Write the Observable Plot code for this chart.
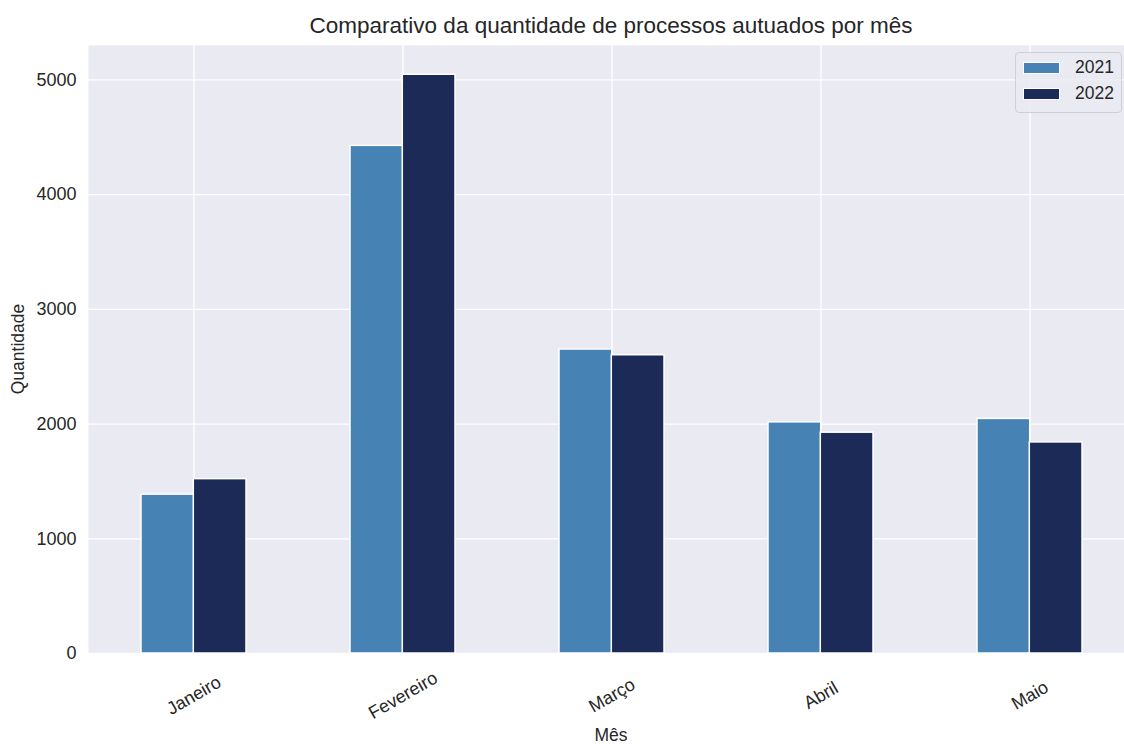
<!DOCTYPE html>
<html>
<head>
<meta charset="utf-8">
<script src="https://cdn.jsdelivr.net/npm/d3@7"></script>
<script src="https://cdn.jsdelivr.net/npm/@observablehq/plot@0.6"></script>
<style>
  html, body { margin: 0; padding: 0; background: #ffffff; overflow: hidden; }
  body { font-family: "Liberation Sans", Arial, sans-serif; color: #262626; }
  #wrap { position: relative; width: 1124px; height: 744px; overflow: hidden; }
  #title { position: absolute; left: 88px; width: 1046px; top: 13px; text-align: center; font-size: 22.5px; }
  #chart { position: absolute; left: 0; top: 43px; width: 1134px; }
  #chart svg { max-width: none !important; }
  #chart svg text { font-size: 18px !important; }
  .ylab { position: absolute; left: 18px; top: 349px; transform: translate(-50%, -50%) rotate(-90deg); font-size: 17.5px; white-space: nowrap; }
  .xlab { position: absolute; left: 611px; top: 735px; transform: translate(-50%, -50%); font-size: 17.5px; }
  #legend { position: absolute; left: 1015px; top: 52px; width: 107px; height: 61px; box-sizing: border-box;
            background: rgba(234,234,242,0.85); border: 1px solid #cfcfd8; border-radius: 4px; }
  .item { position: absolute; left: 7px; display: flex; align-items: center; font-size: 17.5px; }
  .sw { width: 37px; height: 12px; box-sizing: border-box; border: 1px solid #fff; margin-right: 15px; }
</style>
</head>
<body>
<div id="wrap">
  <div id="title">Comparativo da quantidade de processos autuados por mês</div>
  <div id="chart"></div>
  <div class="ylab">Quantidade</div>
  <div class="xlab">Mês</div>
  <div id="legend"></div>
</div>
<script>
const months = ["Janeiro", "Fevereiro", "Março", "Abril", "Maio"];
const years = ["2021", "2022"];
const values2021 = [1385, 4425, 2650, 2015, 2045];
const values2022 = [1520, 5045, 2600, 1925, 1840];
const yTicks = [0, 1000, 2000, 3000, 4000, 5000];
const colors = ["#4682b4", "#1b2a56"];

const rows = [];
months.forEach((m, i) => {
  rows.push({month: m, year: years[0], value: values2021[i]});
  rows.push({month: m, year: years[1], value: values2022[i]});
});

const W = 1134, H = 701, ML = 88, MR = 0, MT = 2, MB = 91;
const step = (W - ML - MR) / months.length;
const half = step / 4;

const chart = Plot.plot({
  width: W, height: H,
  marginLeft: ML, marginRight: MR, marginTop: MT, marginBottom: MB,
  style: {fontFamily: "'Liberation Sans', Arial, sans-serif", fontSize: "18px", color: "#262626", background: "transparent", maxWidth: "none"},
  x: {domain: months, paddingInner: 0.5, paddingOuter: 0.25, label: null},
  y: {domain: [0, 5300], label: null},
  marks: [
    Plot.frame({fill: "#eaeaf2", stroke: null}),
    Plot.gridY(yTicks, {stroke: "white", strokeOpacity: 1, strokeWidth: 1.3}),
    Plot.gridX({stroke: "white", strokeOpacity: 1, strokeWidth: 1.3}),
    Plot.barY(rows.filter(d => d.year === years[0]), {x: "month", y: "value", fill: colors[0], stroke: "white", strokeWidth: 1.5, insetRight: half}),
    Plot.barY(rows.filter(d => d.year === years[1]), {x: "month", y: "value", fill: colors[1], stroke: "white", strokeWidth: 1.5, insetLeft: half}),
    Plot.axisY(yTicks, {tickSize: 0, tickPadding: 12, fontSize: 18, fill: "#262626", label: null, tickFormat: d3.format("d")}),
    Plot.axisX({tickSize: 0, tickRotate: -30, textAnchor: "middle", tickPadding: 42, fontSize: 18, fill: "#262626", label: null})
  ]
});
chart.style.maxWidth = "none";
document.getElementById("chart").appendChild(chart);

const legend = document.getElementById("legend");
years.forEach((y, i) => {
  const it = document.createElement("div");
  it.className = "item";
  it.style.top = (i === 0 ? 4 : 30) + "px";
  it.innerHTML = `<div class="sw" style="background:${colors[i]}"></div><span>${y}</span>`;
  legend.appendChild(it);
});
</script>
</body>
</html>
